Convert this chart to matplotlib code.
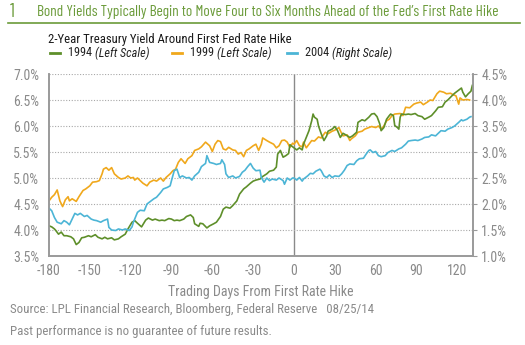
import matplotlib
matplotlib.use("Agg")
import matplotlib.pyplot as plt
from matplotlib.ticker import FuncFormatter, MultipleLocator

# condensed sans to mimic the house style
plt.rcParams['font.family'] = ['Roboto Condensed', 'DejaVu Sans']
plt.rcParams['axes.unicode_minus'] = False

# 1994 (left scale)
days_1994 = [-180, -178, -176, -175, -173, -171, -169, -167, -164, -162, -160, -158, -156, -154, -151, -149,
             -146, -144, -141, -139, -137, -134, -132, -129, -127, -124, -122, -119, -117, -115, -112, -109,
             -107, -104, -102, -99, -97, -95, -92, -90, -88, -86, -84, -81, -79, -76, -74, -73, -70, -69,
             -67, -64, -62, -59, -57, -54, -52, -50, -47, -45, -42, -40, -37, -35, -32, -30, -28, -25,
             -23, -20, -18, -15, -13, -12, -10, -8, -6, -4, -3, -1, 0, 2, 4, 6, 7, 9, 11, 13, 14, 15, 17,
             18, 20, 22, 24, 25, 28, 30, 32, 34, 36, 38, 41, 43, 46, 47, 50, 52, 55, 57, 59, 61, 63, 64,
             66, 68, 70, 71, 73, 74, 76, 77, 78, 79, 82, 84, 86, 89, 91, 94, 96, 99, 101, 104, 106, 109,
             111, 113, 116, 118, 121, 123, 124, 126, 128, 130, 131]
yield_1994 = [4.08, 4.06, 4.02, 3.99, 3.92, 3.96, 3.89, 3.89, 3.87, 3.83, 3.72, 3.76, 3.85, 3.86, 3.89, 3.87,
              3.91, 3.86, 3.83, 3.86, 3.83, 3.85, 3.81, 3.83, 3.87, 3.92, 4.02, 4.15, 4.18, 4.13, 4.06, 4.19,
              4.23, 4.19, 4.21, 4.18, 4.19, 4.18, 4.22, 4.21, 4.18, 4.19, 4.18, 4.21, 4.26, 4.29, 4.24, 4.12,
              4.07, 4.13, 4.12, 4.04, 4.08, 4.12, 4.15, 4.26, 4.40, 4.44, 4.42, 4.47, 4.56, 4.69, 4.79, 4.83,
              4.90, 4.94, 4.96, 4.98, 5.03, 5.08, 5.13, 5.15, 5.21, 5.46, 5.53, 5.40, 5.43, 5.47, 5.64, 5.60,
              5.58, 5.54, 5.58, 5.54, 5.65, 5.78, 5.91, 6.10, 6.23, 6.17, 6.13, 6.00, 5.85, 5.72, 5.81, 5.90,
              5.94, 5.99, 5.91, 5.78, 5.86, 5.83, 5.78, 5.81, 5.88, 6.07, 6.12, 6.10, 6.17, 6.23, 6.24, 6.18,
              6.04, 5.91, 5.97, 6.13, 6.20, 6.23, 6.20, 6.01, 5.97, 5.94, 6.17, 6.23, 6.22, 6.23, 6.22, 6.24,
              6.20, 6.18, 6.13, 6.17, 6.20, 6.29, 6.36, 6.37, 6.46, 6.50, 6.58, 6.63, 6.69, 6.73, 6.65, 6.56,
              6.62, 6.67, 6.78]

# 1999 (left scale)
days_1999 = [-180, -178, -176, -174, -172, -170, -168, -166, -165, -163, -160, -158, -155, -153, -150, -148,
             -145, -143, -141, -140, -138, -136, -134, -132, -129, -127, -124, -122, -120, -118, -117, -115,
             -113, -111, -108, -106, -103, -101, -98, -96, -94, -91, -89, -87, -85, -83, -80, -78, -75, -73,
             -70, -68, -65, -62, -60, -58, -56, -54, -52, -50, -48, -45, -43, -41, -39, -37, -35, -33, -30,
             -28, -26, -24, -23, -20, -18, -15, -13, -11, -9, -7, -5, -3, -1, 0, 2, 4, 6, 7, 9, 11, 13, 15,
             18, 20, 23, 25, 28, 30, 33, 34, 36, 39, 41, 42, 45, 47, 50, 52, 55, 57, 60, 62, 64, 66, 68, 70,
             72, 74, 78, 80, 82, 85, 88, 90, 93, 95, 98, 100, 102, 105, 107, 110, 112, 115, 117, 119, 121,
             122, 124, 127, 129]
yield_1999 = [4.56, 4.63, 4.68, 4.77, 4.56, 4.45, 4.58, 4.64, 4.56, 4.60, 4.55, 4.64, 4.76, 4.79, 4.85, 4.92,
              4.93, 4.95, 5.08, 5.17, 5.20, 5.15, 5.20, 5.08, 5.01, 4.98, 5.00, 5.04, 5.00, 5.01, 4.96, 5.00,
              4.95, 4.90, 4.85, 4.92, 4.96, 4.94, 5.00, 4.94, 5.01, 5.08, 5.14, 5.17, 5.30, 5.37, 5.28, 5.37,
              5.43, 5.53, 5.56, 5.60, 5.69, 5.62, 5.51, 5.65, 5.72, 5.70, 5.56, 5.54, 5.59, 5.54, 5.53, 5.46,
              5.49, 5.41, 5.53, 5.56, 5.62, 5.65, 5.53, 5.65, 5.77, 5.72, 5.69, 5.65, 5.58, 5.62, 5.72, 5.73,
              5.69, 5.59, 5.67, 5.65, 5.72, 5.62, 5.60, 5.69, 5.58, 5.65, 5.72, 5.71, 5.79, 5.77, 5.88, 5.85,
              5.90, 5.92, 5.97, 5.91, 5.81, 5.83, 5.72, 5.75, 5.81, 5.88, 5.90, 5.94, 5.97, 5.99, 5.97, 6.00,
              5.94, 6.00, 6.10, 6.13, 6.20, 6.23, 6.24, 6.20, 6.36, 6.35, 6.42, 6.44, 6.46, 6.41, 6.46, 6.50,
              6.49, 6.62, 6.67, 6.65, 6.62, 6.63, 6.60, 6.58, 6.42, 6.54, 6.50, 6.51, 6.50]

# 2004 (right scale)
days_2004 = [-180, -178, -176, -174, -171, -169, -167, -165, -163, -161, -159, -157, -154, -152, -149, -147,
             -145, -142, -140, -137, -136, -134, -131, -129, -126, -124, -121, -119, -118, -115, -113, -110,
             -108, -105, -103, -101, -98, -96, -93, -91, -90, -88, -86, -84, -82, -79, -77, -75, -73, -70,
             -68, -65, -64, -62, -59, -57, -54, -53, -51, -50, -48, -45, -43, -40, -38, -36, -34, -32, -30,
             -28, -25, -24, -22, -20, -18, -16, -13, -11, -8, -7, -5, -3, -1, 0, 2, 4, 6, 7, 10, 12, 14, 16,
             19, 20, 22, 24, 26, 28, 30, 33, 35, 37, 39, 41, 44, 46, 48, 51, 53, 55, 56, 58, 60, 62, 64, 67,
             69, 72, 74, 77, 79, 82, 84, 86, 89, 91, 94, 96, 99, 101, 104, 106, 108, 111, 113, 116, 118, 121,
             123, 124, 127, 129, 130]
yield_2004 = [1.92, 1.87, 1.74, 1.65, 1.62, 1.68, 1.65, 1.60, 1.71, 1.82, 1.79, 1.82, 1.76, 1.78, 1.71, 1.69,
              1.68, 1.65, 1.68, 1.71, 1.55, 1.50, 1.49, 1.52, 1.50, 1.52, 1.49, 1.56, 1.65, 1.84, 1.88, 1.87,
              2.00, 2.06, 2.10, 2.13, 2.22, 2.29, 2.32, 2.35, 2.45, 2.64, 2.67, 2.51, 2.54, 2.50, 2.51, 2.46,
              2.54, 2.61, 2.72, 2.78, 2.93, 2.80, 2.78, 2.76, 2.78, 2.85, 2.76, 2.58, 2.51, 2.54, 2.50, 2.53,
              2.61, 2.65, 2.72, 2.78, 2.69, 2.64, 2.65, 2.51, 2.42, 2.50, 2.45, 2.48, 2.46, 2.50, 2.45, 2.38,
              2.50, 2.46, 2.50, 2.50, 2.46, 2.51, 2.44, 2.48, 2.54, 2.59, 2.58, 2.63, 2.67, 2.64, 2.54, 2.51,
              2.56, 2.51, 2.54, 2.53, 2.58, 2.65, 2.74, 2.77, 2.76, 2.83, 2.87, 2.88, 2.96, 3.03, 3.04, 2.99,
              3.01, 2.93, 2.91, 2.93, 2.99, 3.03, 3.01, 3.06, 3.08, 3.15, 3.21, 3.22, 3.23, 3.22, 3.25, 3.28,
              3.29, 3.33, 3.31, 3.36, 3.41, 3.40, 3.44, 3.47, 3.50, 3.57, 3.62, 3.60, 3.63, 3.67, 3.68]

x_ticks = [-180, -150, -120, -90, -60, -30, 0, 30, 60, 90, 120]

GREEN = '#5e8f2a'
ORANGE = '#f0a81c'
BLUE = '#4cb5d6'
GRAY = '#8a8a8a'
TITLE_GREEN = '#6b9b3a'

W, H = 525, 345
fig = plt.figure(figsize=(W / 100, H / 100), dpi=100)

def fx(px):
    return px / W

def fy(py):
    return 1 - py / H

def fit_width(t, size, target_px):
    # rescale a text so it spans target_px pixels
    fig.canvas.draw()
    t.set_fontsize(size * target_px / t.get_window_extent().width)

# plot area in pixel coords of the reference
ax = fig.add_axes([fx(49), fy(256), fx(473 - 49), (256 - 74) / H])
ax2 = ax.twinx()

ax.plot(days_1994, yield_1994, color=GREEN, lw=1.2, zorder=3)
ax.plot(days_1999, yield_1999, color=ORANGE, lw=1.2, zorder=2)
ax2.plot(days_2004, yield_2004, color=BLUE, lw=1.2, zorder=1)

ax.set_xlim(-180, 131.5)
ax.set_ylim(3.5, 7.0)
ax2.set_ylim(1.0, 4.5)
ax.yaxis.set_major_locator(MultipleLocator(0.5))
ax2.yaxis.set_major_locator(MultipleLocator(0.5))
pct = FuncFormatter(lambda v, p: f'{v:.1f}%')
ax.yaxis.set_major_formatter(pct)
ax2.yaxis.set_major_formatter(pct)
ax.set_xticks(x_ticks)

ax.grid(axis='y', color='#a8a8a8', linestyle=(0, (1, 1.5)), linewidth=0.8)
ax.axvline(0, color=GRAY, lw=1.0, zorder=0)

for a in (ax, ax2):
    a.spines['top'].set_visible(False)
    for s in ('left', 'right', 'bottom'):
        a.spines[s].set_color('#9a9a9a')
        a.spines[s].set_linewidth(1.2)
ax.tick_params(axis='y', length=0, labelsize=10, labelcolor=GRAY, pad=7)
ax.tick_params(axis='x', length=0, labelsize=10, labelcolor=GRAY, pad=6)
ax2.tick_params(axis='y', length=3, color='#9a9a9a', labelsize=10, labelcolor=GRAY, pad=3)
ax.set_xlabel('Trading Days From First Rate Hike', fontsize=10, color=GRAY, labelpad=5)

# header
fig.text(fx(10), fy(12), '1', color=TITLE_GREEN, fontsize=13.5, va='center', ha='left',
         family=['Barlow Condensed', 'Roboto Condensed'])
title = fig.text(fx(37), fy(12),
                 'Bond Yields Typically Begin to Move Four to Six Months Ahead of the Fed\u2019s First Rate Hike',
                 color=TITLE_GREEN, fontsize=12, va='center', ha='left',
                 family=['Barlow Condensed', 'Roboto Condensed'])
fit_width(title, 12, 499 - 37)
fig.add_artist(plt.Line2D([fx(8), fx(520)], [fy(23), fy(23)], color=TITLE_GREEN, lw=1.2))
subtitle = fig.text(fx(48), fy(39), '2-Year Treasury Yield Around First Fed Rate Hike', color='#1a1a1a',
                    fontsize=10, va='center', ha='left')
fit_width(subtitle, 10, 291 - 48)

# legend row
legend_items = [(50, GREEN, '1994', '(Left Scale)'),
                (172, ORANGE, '1999', '(Left Scale)'),
                (287, BLUE, '2004', '(Right Scale)')]
for x0, c, yr, scale in legend_items:
    fig.add_artist(plt.Line2D([fx(x0), fx(x0 + 10)], [fy(53), fy(53)], color=c, lw=2))
    t = fig.text(fx(x0 + 18), fy(53), yr + ' ', color='#222222', fontsize=8.8, va='center', ha='left')
    fig.canvas.draw()
    bb = t.get_window_extent()
    fig.text(bb.x1 / fig.dpi / fig.get_figwidth(), fy(53), scale, color='#222222', fontsize=8.8,
             style='italic', va='center', ha='left')

# footer
fig.text(fx(10), fy(309), 'Source: LPL Financial Research, Bloomberg, Federal Reserve   08/25/14',
         color=GRAY, fontsize=9.3, va='center', ha='left')
fig.text(fx(10), fy(331), 'Past performance is no guarantee of future results.',
         color=GRAY, fontsize=9.3, va='center', ha='left')

fig.savefig('out.png', dpi=100)
